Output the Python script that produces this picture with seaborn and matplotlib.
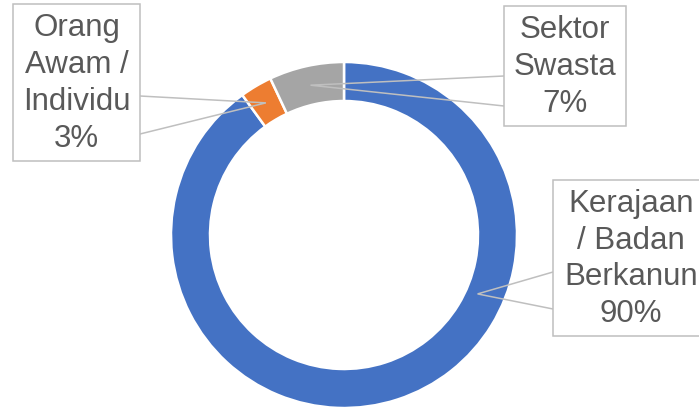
import numpy as np
import matplotlib.pyplot as plt
import seaborn as sns
from matplotlib.patches import Rectangle, Polygon

# data
categories = ["Kerajaan / Badan Berkanun", "Orang Awam / Individu", "Sektor Swasta"]
label_lines = ["Kerajaan\n/ Badan\nBerkanun", "Orang\nAwam /\nIndividu", "Sektor\nSwasta"]
shares = [90, 3, 7]
colors = ["#4472C4", "#ED7D31", "#A5A5A5"]

W, H = 699, 410
sns.set_theme(style="white")
plt.rcParams['font.family'] = ['Liberation Sans', 'DejaVu Sans']

fig = plt.figure(figsize=(W / 100, H / 100), dpi=100)
ax = fig.add_axes([0, 0, 1, 1])

cx, cy, R = 344, H - 236, 173
ring = 39
wedges, _ = ax.pie(shares, colors=sns.color_palette(colors), startangle=90, counterclock=False,
                   center=(cx, cy), radius=R,
                   wedgeprops=dict(width=ring, edgecolor="white", linewidth=1.8))
ax.set_xlim(0, W)
ax.set_ylim(0, H)
ax.set_aspect("equal")
ax.axis("off")

# callout boxes (left, top, right, bottom in pixels from top-left) and wedge attach y's
boxes = [(553, 181, 712, 337), (13, 5, 140, 162), (504, 7, 626, 127)]
attach = [(553, 273, 310), (140, 97, 135), (504, 77, 107)]
anchor = [None, None, None]
for i, w in enumerate(wedges):
    mid = np.deg2rad((w.theta1 + w.theta2) / 2)
    r = R - ring / 2
    anchor[i] = (cx + r * np.cos(mid), cy + r * np.sin(mid))
# Excel moved the big slice's pointer
a = np.deg2rad(-23.8)
anchor[0] = (cx + 146 * np.cos(a), cy + 146 * np.sin(a))

edge = "#BFBFBF"
for i in range(len(shares)):
    x0, y0, x1, y1 = boxes[i]
    ax.add_patch(Rectangle((x0, H - y1), x1 - x0, y1 - y0, facecolor="white",
                           edgecolor=edge, linewidth=1.1, zorder=5))
    ex, ya, yb = attach[i]
    ax.plot([ex, anchor[i][0], ex], [H - ya, anchor[i][1], H - yb], color=edge,
            linewidth=1.1, zorder=4, solid_joinstyle="miter")
    txt = label_lines[i] + "\n" + f"{shares[i]}%"
    xc = (x0 + min(x1, 709)) / 2 if i == 0 else (x0 + x1) / 2
    ax.text(xc, H - (y0 + y1) / 2, txt, ha="center", va="center", ma="center",
            fontsize=22.5, color="#595959", linespacing=1.3, zorder=6)

fig.savefig("out.png", dpi=100)
